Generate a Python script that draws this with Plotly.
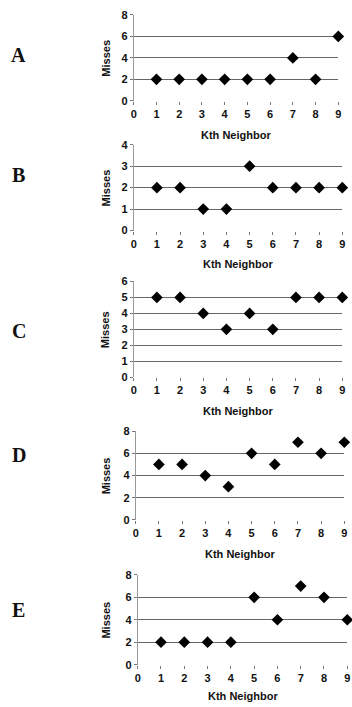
import plotly.graph_objects as go

W, H = 352, 707

k_neighbor = [1, 2, 3, 4, 5, 6, 7, 8, 9]
misses_A = [2, 2, 2, 2, 2, 2, 4, 2, 6]
misses_B = [2, 2, 1, 1, 3, 2, 2, 2, 2]
misses_C = [5, 5, 4, 3, 4, 3, 5, 5, 5]
misses_D = [5, 5, 4, 3, 6, 5, 7, 6, 7]
misses_E = [2, 2, 2, 2, 6, 4, 7, 6, 4]
panel_labels = ["A", "B", "C", "D", "E"]
y_max = [8, 4, 6, 8, 8]
y_step = [2, 1, 1, 2, 2]
x_ticks = [0, 1, 2, 3, 4, 5, 6, 7, 8, 9]

series = [misses_A, misses_B, misses_C, misses_D, misses_E]
# pixel boxes (x0, x1, ytop, ybottom)
boxes = [(133, 338, 14, 100), (133, 342, 144, 230), (133, 342, 281, 377),
         (135, 344, 431, 520), (137, 347, 575, 665)]
letter_y = [54, 174, 331, 455, 610]

S = 0.985


def px(x):
    return min(max(((x - 2) / S) / W, 0), 1)


def py(y):
    return min(max(1 - ((y - 5) / S) / H, 0), 1)


fig = go.Figure()
FONT = "Liberation Sans, Arial, sans-serif"
tickfont = dict(family=FONT, size=11, color="#111", weight="bold")
annotations = []
for i, (vals, box) in enumerate(zip(series, boxes)):
    x0, x1, yt, yb = box
    xa = "xaxis" if i == 0 else f"xaxis{i+1}"
    ya = "yaxis" if i == 0 else f"yaxis{i+1}"
    xr = "x" if i == 0 else f"x{i+1}"
    yr = "y" if i == 0 else f"y{i+1}"
    fig.add_trace(go.Scatter(x=k_neighbor, y=vals, mode="markers", xaxis=xr, yaxis=yr,
                             marker=dict(symbol="diamond", size=9, color="black"),
                             cliponaxis=False, showlegend=False))
    fig.layout[xa] = dict(domain=[px(x0), px(x1)], range=[0, 9], anchor=yr,
                          tickvals=x_ticks, ticks="outside", ticklen=3, tickcolor="#777",
                          showgrid=False, zeroline=False, showline=False,
                          tickfont=tickfont, fixedrange=True)
    fig.layout[ya] = dict(domain=[py(yb), py(yt)], range=[0, y_max[i]], anchor=xr,
                          dtick=y_step[i], tick0=0, ticks="outside", ticklen=3, tickcolor="#777",
                          showgrid=True, gridcolor="#666", gridwidth=1,
                          zeroline=False, showline=True, linecolor="#999", linewidth=1,
                          tickfont=tickfont, fixedrange=True)
    annotations.append(dict(text="Misses", x=px(105), y=py((yt + yb) / 2),
                            xref="paper", yref="paper", showarrow=False, textangle=-90,
                            xanchor="center", yanchor="middle",
                            font=dict(family=FONT, size=11, color="#111", weight="bold")))
    annotations.append(dict(text="Kth Neighbor", x=px((x0 + x1) / 2),
                            y=max(py(yb + 34), 5 / H),
                            xref="paper", yref="paper", showarrow=False,
                            xanchor="center", yanchor="middle",
                            font=dict(family=FONT, size=11, color="#111", weight="bold")))
    annotations.append(dict(text=panel_labels[i], x=px(18), y=py(letter_y[i]),
                            xref="paper", yref="paper", showarrow=False,
                            xanchor="center", yanchor="middle",
                            font=dict(family="Liberation Serif, Times New Roman, serif", size=20,
                                      color="#111", weight="bold")))

fig.update_layout(width=W, height=H, margin=dict(l=0, r=0, t=0, b=0),
                  paper_bgcolor="white", plot_bgcolor="white", annotations=annotations)
fig.write_html("out.html", config={"displayModeBar": False},
               post_script="document.body.style.margin='0';document.body.style.overflow='hidden';")
